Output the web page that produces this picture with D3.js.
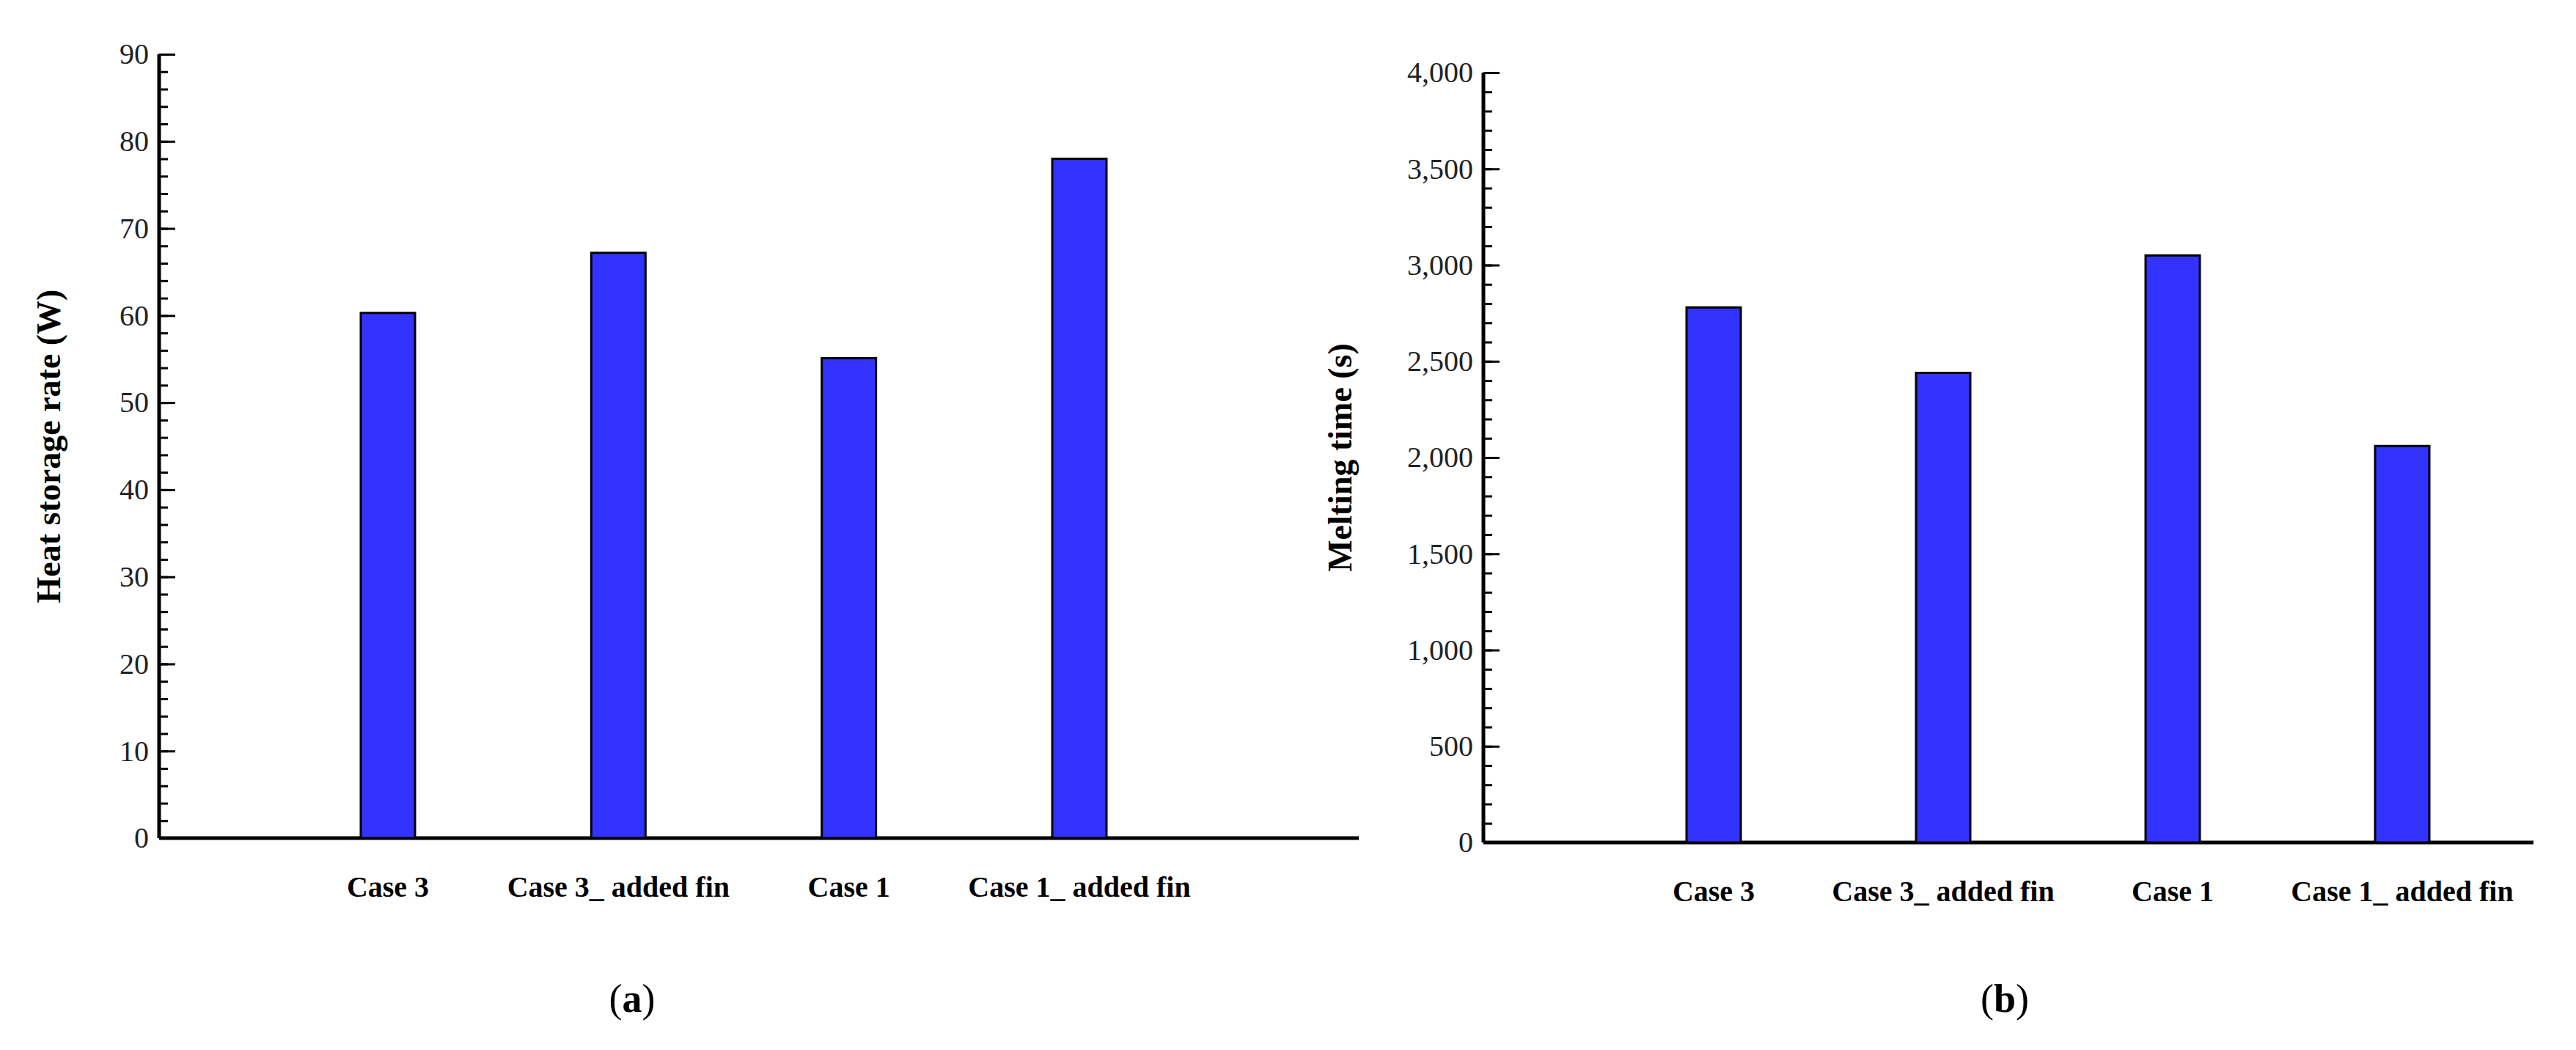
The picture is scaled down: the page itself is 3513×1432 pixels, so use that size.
<!DOCTYPE html><html><head><script src="https://cdn.jsdelivr.net/npm/d3@7"></script>
<style>body{margin:0;background:#fff}</style></head><body><svg id="c" width="3513" height="1432"></svg><script>
const categories=["Case 3","Case 3_ added fin","Case 1","Case 1_ added fin"];
const heatRate=[60.3,67.2,55.1,78.0];
const meltTime=[2780,2440,3050,2060];
const svg=d3.select("#c");
const F="Liberation Serif, Times New Roman, serif";
function panel(o){
  const g=svg.append("g");
  const y=d3.scaleLinear().domain([0,o.max]).range([o.zero,o.top]);
  const x=d3.scalePoint().domain(categories).range(o.xr);
  // minor ticks
  g.append("g").attr("transform",`translate(${o.ax},0)`).call(d3.axisRight(y).tickValues(d3.range(0,o.max+1e-9,o.minor)).tickSize(12).tickFormat("")).call(s=>s.select(".domain").remove()).selectAll("line").attr("stroke","#000").attr("stroke-width",3);
  const ya=g.append("g").attr("transform",`translate(${o.ax},0)`).call(d3.axisRight(y).tickValues(d3.range(0,o.max+1e-9,o.major)).tickSize(22).tickPadding(0));
  ya.select(".domain").attr("stroke","#000").attr("stroke-width",5).attr("d",`M0,${o.zero}V${o.top}`);
  ya.selectAll("line").attr("stroke","#000").attr("stroke-width",3);
  ya.selectAll("text").attr("x",-14).attr("text-anchor","end").attr("font-family",F).attr("font-size",40).attr("fill","#222");
  g.append("line").attr("x1",o.ax).attr("x2",o.xend).attr("y1",o.zero).attr("y2",o.zero).attr("stroke","#000").attr("stroke-width",5);
  g.selectAll("rect").data(o.vals).join("rect").attr("x",(d,i)=>x(categories[i])-37).attr("width",74)
   .attr("y",d=>y(d)).attr("height",d=>o.zero-y(d)).attr("fill","#3333ff").attr("stroke","#000").attr("stroke-width",3);
  g.selectAll(".cl").data(categories).join("text").attr("x",d=>x(d)).attr("y",o.zero+80).attr("text-anchor","middle")
   .attr("font-family",F).attr("font-weight","bold").attr("font-size",40).text(d=>d);
  g.append("text").attr("transform",`translate(${o.ylx},${(o.top+o.zero)/2}) rotate(-90)`).attr("text-anchor","middle")
   .attr("font-family",F).attr("font-weight","bold").attr("font-size",46).text(o.label);
  const t=g.append("text").attr("x",o.px).attr("y",1380).attr("text-anchor","middle").attr("font-family",F).attr("font-size",54);
  t.append("tspan").text("(");t.append("tspan").attr("font-weight","bold").text(o.letter);t.append("tspan").text(")");
}
panel({vals:heatRate,max:90,major:10,minor:2,ax:217,top:74,zero:1143,xend:1853,xr:[529,1472],ylx:82,label:"Heat storage rate (W)",px:862,letter:"a"});
panel({vals:meltTime,max:4000,major:500,minor:100,ax:2023,top:99,zero:1149,xend:3455,xr:[2337,3276],ylx:1843,label:"Melting time (s)",px:2734,letter:"b"});
</script></body></html>
